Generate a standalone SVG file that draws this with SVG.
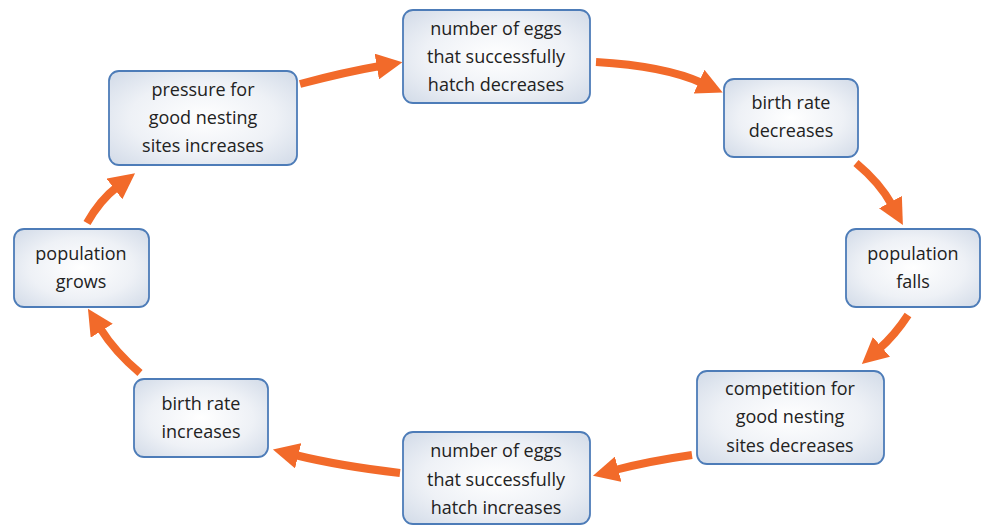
<svg xmlns="http://www.w3.org/2000/svg" width="983" height="526" viewBox="0 0 983 526">
<style>
.box{fill:url(#g);stroke:#4d7cb8;stroke-width:1.8}
.t{font-family:"Open Sans","Noto Sans",sans-serif;font-size:18px;fill:#222;text-anchor:middle}
.c{fill:none;stroke:#f26a2a;stroke-width:8}
</style>
<defs>
<radialGradient id="g" cx="50%" cy="50%" r="65%">
<stop offset="0" stop-color="#ffffff"/>
<stop offset="0.6" stop-color="#eef1f6"/>
<stop offset="1" stop-color="#d6deea"/>
</radialGradient>
<marker id="ah" markerUnits="userSpaceOnUse" markerWidth="26" markerHeight="26" viewBox="0 0 24 24" refX="3" refY="12" orient="auto">
<path d="M0,0 L24,12 L0,24 z" fill="#f26a2a"/>
</marker>
</defs>
<rect width="983" height="526" fill="#fff"/>
<g id="connectors">
<path class="c" d="M300,84 Q345,72 380,66" marker-end="url(#ah)"/>
<path class="c" d="M596,62 Q665,66 702,83" marker-end="url(#ah)"/>
<path class="c" d="M856,163 Q880,183 892,205" marker-end="url(#ah)"/>
<path class="c" d="M908,315 Q895,335 879,349" marker-end="url(#ah)"/>
<path class="c" d="M692,455 Q650,461 615,470" marker-end="url(#ah)"/>
<path class="c" d="M400,473 Q340,466 295,455" marker-end="url(#ah)"/>
<path class="c" d="M140,373 Q115,352 100,328" marker-end="url(#ah)"/>
<path class="c" d="M87,223 Q100,200 117,187" marker-end="url(#ah)"/>
</g>
<g id="n1"><rect class="box" x="403" y="10" width="187" height="93" rx="10"/>
<text class="t" x="496" y="35">number of eggs</text><text class="t" x="496" y="63">that successfully</text><text class="t" x="496" y="91">hatch decreases</text></g>
<g id="n2"><rect class="box" x="109" y="71" width="188" height="94" rx="10"/>
<text class="t" x="203" y="96">pressure for</text><text class="t" x="203" y="124">good nesting</text><text class="t" x="203" y="152">sites increases</text></g>
<g id="n3"><rect class="box" x="724" y="79" width="134" height="78" rx="10"/>
<text class="t" x="791" y="109">birth rate</text><text class="t" x="791" y="137">decreases</text></g>
<g id="n4"><rect class="box" x="846" y="229" width="134" height="78" rx="10"/>
<text class="t" x="913" y="260">population</text><text class="t" x="913" y="288">falls</text></g>
<g id="n5"><rect class="box" x="697" y="371" width="187" height="93" rx="10"/>
<text class="t" x="790" y="395">competition for</text><text class="t" x="790" y="423">good nesting</text><text class="t" x="790" y="452">sites decreases</text></g>
<g id="n6"><rect class="box" x="403" y="432" width="187" height="92" rx="10"/>
<text class="t" x="496" y="457">number of eggs</text><text class="t" x="496" y="486">that successfully</text><text class="t" x="496" y="514">hatch increases</text></g>
<g id="n7"><rect class="box" x="134" y="379" width="134" height="78" rx="10"/>
<text class="t" x="201" y="410">birth rate</text><text class="t" x="201" y="438">increases</text></g>
<g id="n8"><rect class="box" x="14" y="229" width="135" height="78" rx="10"/>
<text class="t" x="81" y="260">population</text><text class="t" x="81" y="288">grows</text></g>
</svg>
